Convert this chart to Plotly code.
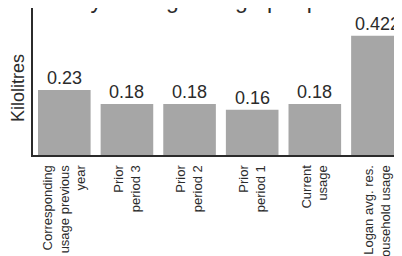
import plotly.graph_objects as go

categories = [
    "Corresponding<br>usage previous<br>year",
    "Prior<br>period 3",
    "Prior<br>period 2",
    "Prior<br>period 1",
    "Current<br>usage",
    "Logan avg. res.<br>household usage",
]
values = [0.23, 0.18, 0.18, 0.16, 0.18, 0.422]
value_labels = ["0.23", "0.18", "0.18", "0.16", "0.18", "0.422"]
title_text = "Daily average usage per person"
y_title = "Kilolitres"

FONT = "Liberation Sans, Arial, sans-serif"
INK = "#2b2b2b"

x_idx = list(range(len(categories)))

fig = go.Figure(
    go.Bar(
        x=x_idx,
        y=values,
        marker=dict(color="#a6a6a6", line=dict(width=0)),
    )
)

for xi, v, lab in zip(x_idx, values, value_labels):
    fig.add_annotation(
        x=xi,
        y=v,
        text=lab,
        xref="x",
        yref="y",
        xanchor="center",
        yanchor="bottom",
        yshift=0,
        showarrow=False,
        font=dict(family=FONT, size=18, color=INK),
    )

fig.update_layout(
    width=402,
    height=256,
    margin=dict(l=25, r=0, t=0, b=109, autoexpand=False),
    paper_bgcolor="white",
    plot_bgcolor="white",
    bargap=0.16,
    showlegend=False,
    font=dict(family=FONT, color=INK),
)

fig.update_xaxes(
    tickmode="array",
    tickvals=x_idx,
    ticktext=categories,
    tickangle=-90,
    tickfont=dict(family=FONT, size=13, color=INK),
    ticklabelstandoff=3,
    range=[-0.5, 5.52],
    showline=True,
    linecolor=INK,
    linewidth=2,
    ticks="",
    showgrid=False,
    zeroline=False,
    automargin=False,
)

fig.update_yaxes(
    range=[0, 0.52],
    showline=True,
    linecolor=INK,
    linewidth=2,
    showticklabels=False,
    ticks="",
    showgrid=False,
    zeroline=False,
    automargin=False,
)

fig.add_annotation(
    text=y_title,
    xref="paper",
    yref="paper",
    x=0,
    y=0.456,
    xanchor="center",
    yanchor="middle",
    xshift=-15,
    textangle=-90,
    showarrow=False,
    font=dict(family=FONT, size=18, color=INK),
)

fig.add_annotation(
    text=title_text,
    xref="paper",
    yref="paper",
    x=0.48,
    y=1,
    xanchor="center",
    yanchor="bottom",
    yshift=-7,
    showarrow=False,
    font=dict(family=FONT, size=23, color=INK),
)

fig.write_html("out.html")
